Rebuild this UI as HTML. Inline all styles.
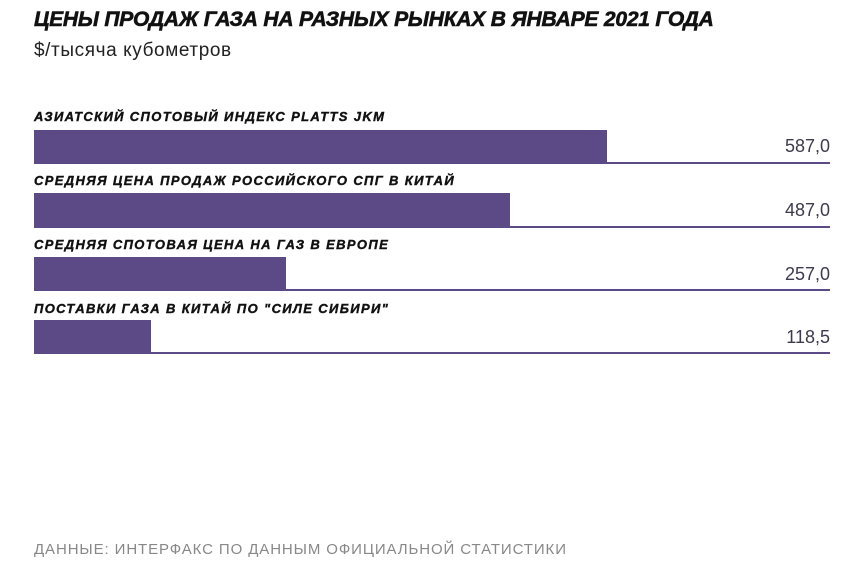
<!DOCTYPE html>
<html><head><meta charset="utf-8"><style>
body{margin:0;width:866px;height:562px;background:#fff;position:relative;font-family:"Liberation Sans",sans-serif;overflow:hidden}
.t{position:absolute;left:34px;top:8px;font-size:21px;font-weight:bold;font-style:italic;color:#111;letter-spacing:-0.2px;-webkit-text-stroke:0.6px #111}
.s{position:absolute;left:34px;top:40px;font-size:19px;color:#222;letter-spacing:0.6px}
.l{position:absolute;left:34px;font-size:13px;font-weight:bold;font-style:italic;color:#111;letter-spacing:1.35px;-webkit-text-stroke:0.4px #111}
.b{position:absolute;left:34px;height:33px;background:#5b4a85}
.ln{position:absolute;left:34px;width:796px;height:2px;background:#5b4a85}
.v{position:absolute;right:36px;font-size:18px;color:#3d3a4d}
.f{position:absolute;left:34px;top:541px;font-size:15px;color:#888;letter-spacing:0.9px}
</style></head><body>
<div class="t">ЦЕНЫ ПРОДАЖ ГАЗА НА РАЗНЫХ РЫНКАХ В ЯНВАРЕ 2021 ГОДА</div>
<div class="s">$/тысяча кубометров</div>

<div class="l" style="top:109px">АЗИАТСКИЙ СПОТОВЫЙ ИНДЕКС PLATTS JKM</div>
<div class="b" style="top:130px;width:573px"></div><div class="ln" style="top:162px"></div>
<div class="v" style="top:136px">587,0</div>

<div class="l" style="top:173px">СРЕДНЯЯ ЦЕНА ПРОДАЖ РОССИЙСКОГО СПГ В КИТАЙ</div>
<div class="b" style="top:193px;width:476px"></div><div class="ln" style="top:226px"></div>
<div class="v" style="top:200px">487,0</div>

<div class="l" style="top:237px">СРЕДНЯЯ СПОТОВАЯ ЦЕНА НА ГАЗ В ЕВРОПЕ</div>
<div class="b" style="top:257px;width:252px"></div><div class="ln" style="top:289px"></div>
<div class="v" style="top:264px">257,0</div>

<div class="l" style="top:301px">ПОСТАВКИ ГАЗА В КИТАЙ ПО "СИЛЕ СИБИРИ"</div>
<div class="b" style="top:320px;width:117px"></div><div class="ln" style="top:352px"></div>
<div class="v" style="top:327px">118,5</div>

<div class="f">ДАННЫЕ: ИНТЕРФАКС ПО ДАННЫМ ОФИЦИАЛЬНОЙ СТАТИСТИКИ</div>
</body></html>
